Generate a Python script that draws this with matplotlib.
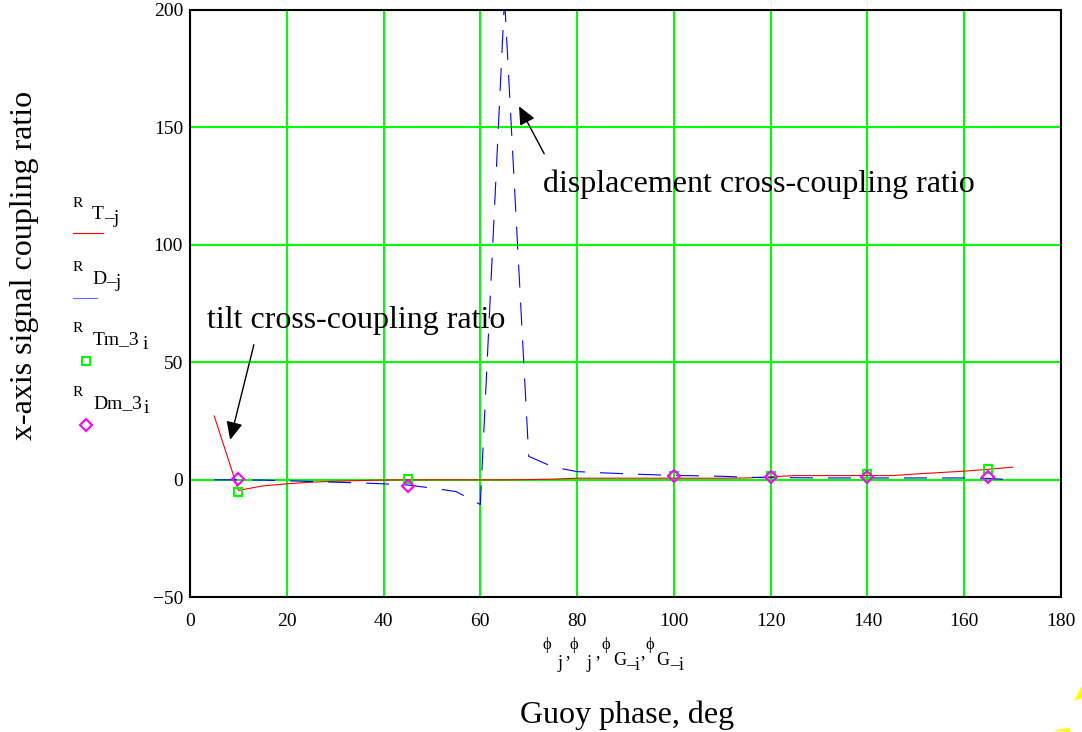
import matplotlib.pyplot as plt
from matplotlib.lines import Line2D
from matplotlib.patches import Polygon

plt.rcParams['font.family'] = ['Liberation Serif', 'DejaVu Serif']

# Guoy phase grid for the model curves, deg
phi = [5, 10, 15, 20, 25, 30, 35, 40, 45, 50, 55, 60, 65, 70, 75, 80, 85,
       90, 95, 100, 105, 110, 115, 120, 125, 130, 135, 140, 145, 150, 155,
       160, 165, 170]

# tilt cross-coupling ratio (model)
R_T = [27.2, -4.5, -2.6, -1.7, -1.0, -0.6, -0.3, -0.1, 0.0, 0.0, 0.0, 0.0,
       0.0, 0.1, 0.3, 0.7, 0.7, 0.7, 0.7, 0.7, 0.7, 0.7, 0.8, 1.3, 1.8, 1.8,
       1.8, 1.8, 1.8, 2.5, 3.1, 3.7, 4.5, 5.4]

# displacement cross-coupling ratio (model)
R_D = [0.0, 0.0, -0.1, -0.4, -0.7, -1.0, -1.3, -1.7, -2.2, -3.5, -5.0,
       -10.5, 205.0, 10.0, 5.5, 3.5, 3.0, 2.6, 2.2, 1.9, 1.7, 1.5, 1.1, 0.9,
       0.9, 0.8, 0.8, 0.8, 0.8, 0.8, 0.8, 0.8, 0.6, 0.0]

# measured points
phi_G = [10, 45, 100, 120, 140, 165]
R_Tm_3 = [-5.0, 0.3, 1.5, 1.5, 2.5, 4.7]
R_Dm_3 = [0.3, -2.8, 1.8, 1.0, 1.0, 1.0]

x_ticks = [0, 20, 40, 60, 80, 100, 120, 140, 160, 180]
y_ticks = [-50, 0, 50, 100, 150, 200]

RED = '#ff0000'
BLUE = '#0000ff'
GREEN = '#00ff00'
MAGENTA = '#ff00ff'
DASH = (20.7, 13.5)

W, H = 1082, 732
fig = plt.figure(figsize=(W / 100, H / 100), dpi=100)
ax = fig.add_axes([190 / W, 1 - 597.3 / H, (1061 - 190) / W, (597.3 - 10) / H])

ax.plot(phi, R_T, color=RED, lw=0.8)
ax.plot(phi, R_D, color=BLUE, lw=0.8, dashes=DASH)
ax.plot(phi_G, R_Tm_3, ls='none', marker='s', ms=6, mfc='none', mec=GREEN, mew=1.5)
ax.plot(phi_G, R_Dm_3, ls='none', marker='D', ms=6, mfc='none', mec=MAGENTA, mew=1.5)

ax.set_xlim(0, 180)
ax.set_ylim(-50, 200)
ax.set_xticks(x_ticks)
ax.set_yticks(y_ticks)
ax.grid(True, color=GREEN, lw=1.5)
ax.set_axisbelow(True)
ax.tick_params(length=0, labelsize=14)
ax.tick_params(axis='x', pad=11)
ax.tick_params(axis='y', pad=5)
for sp in ax.spines.values():
    sp.set_color('black')
    sp.set_linewidth(1.5)

# annotations
arrow = dict(arrowstyle='-|>,head_length=0.55,head_width=0.25', color='black',
             lw=1, mutation_scale=20, shrinkA=0, shrinkB=0)
ax.annotate('', xy=(68.0, 159.0), xytext=(73.2, 138.8), arrowprops=arrow)
ax.text(72.9, 122.5, 'displacement cross-coupling ratio', fontsize=23, va='baseline')
ax.annotate('', xy=(8.3, 17.0), xytext=(13.2, 57.5), arrowprops=arrow)
ax.text(3.5, 64.7, 'tilt cross-coupling ratio', fontsize=23, va='baseline')


def put(x, y, s, size):
    # place a text piece by its left/baseline point in figure pixels
    fig.text(x / W, 1 - y / H, s, fontsize=size, ha='left', va='baseline')


def fig_line(xs, ys, **kw):
    fig.add_artist(Line2D([x / W for x in xs], [1 - y / H for y in ys],
                          transform=fig.transFigure, **kw))


# legend column on the left
legend_text = [
    ('T', '\u2013j', 92, 104, 206.6, 210.5),
    ('D', '\u2013j', 92, 106, 271.0, 274.5),
    ('Tm_3', 'i', 93, 142.5, 331.7, 336.5),
    ('Dm_3', 'i', 93, 144, 395.7, 400.5),
]
for name, sub, x1, x2, yb, yb2 in legend_text:
    put(73, yb, 'R', 11)
    put(x1, yb + 12.5, name, 14)
    put(x2, yb2 + 12.5, sub, 14)

fig_line([73, 103], [233.3, 233.3], color=RED, lw=0.8)
fig_line([73, 97], [297.7, 297.7], color=BLUE, lw=0.8, alpha=0.6)
fig_line([86], [361], ls='none', marker='s', ms=6, mfc='none', mec=GREEN, mew=1.5)
fig_line([86], [425], ls='none', marker='D', ms=6, mfc='none', mec=MAGENTA, mew=1.5)

# variable names under the x axis
phi_label = [
    ('\u03d5', 542.7, 649, 12), ('j', 558, 668, 13), (',', 565.5, 657, 13),
    ('\u03d5', 570, 649, 12), ('j', 587, 668, 13), (',', 595, 657, 13),
    ('\u03d5', 601.7, 649, 12), ('G', 613, 665, 13), ('\u2013i', 626, 670, 13),
    (',', 640, 657, 13), ('\u03d5', 645, 649, 12), ('G', 656.7, 665, 13),
    ('\u2013i', 670, 670, 13),
]
for s, x, y, size in phi_label:
    put(x, y, s, size)

fig.text(627 / W, 1 - 715 / H, 'Guoy phase, deg', fontsize=23, ha='center', va='center')
fig.text(25 / W, 1 - 265 / H, 'x-axis signal coupling ratio', fontsize=23,
         rotation=90, ha='center', va='center')

# clipped yellow shapes in the lower right corner
for pts in ([(1074, 700.7), (1082, 686), (1082, 698.3)],
            [(1052.7, 731), (1070, 727.5), (1070, 732)]):
    fig.add_artist(Polygon([(x / W, 1 - y / H) for x, y in pts], closed=True,
                           transform=fig.transFigure, color='#ffff00', lw=0))

fig.savefig('out.png', dpi=100)
